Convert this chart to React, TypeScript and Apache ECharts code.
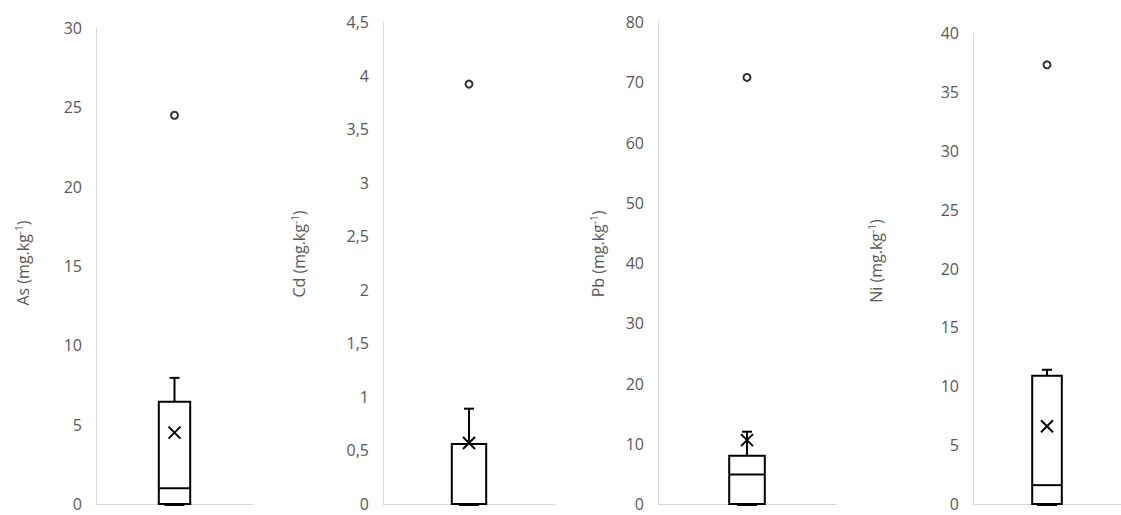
import React, { useEffect, useRef } from "react";
import * as echarts from "echarts";

// [min, Q1, median, Q3, max, mean]
const elements = ["As", "Cd", "Pb", "Ni"];
const boxStats = [
  [0, 0, 1.0, 6.45, 7.95, 4.5],
  [0, 0, 0, 0.56, 0.89, 0.57],
  [0, 0, 4.9, 8.0, 12.0, 10.6],
  [0, 0, 1.6, 10.9, 11.4, 6.6],
];
const outliers = [24.5, 3.92, 70.8, 37.3];
const axisMax = [30, 4.5, 80, 40];
const axisStep = [5, 0.5, 10, 5];

const grids = [
  { left: 96, top: 28, width: 157, height: 476 },
  { left: 383, top: 22, width: 172, height: 482 },
  { left: 658, top: 22, width: 178, height: 482 },
  { left: 973, top: 33, width: 154, height: 471 },
];
const titlePos = [
  { x: 23, y: 263 },
  { x: 299, y: 254 },
  { x: 598, y: 254 },
  { x: 876, y: 261 },
];

const FONT = "'Open Sans', sans-serif";
const GRAY = "#595959";
const AXIS = "#d9d9d9";

export default function App() {
  const ref = useRef<HTMLDivElement>(null);
  useEffect(() => {
    if (!ref.current) return;
    const chart = echarts.init(ref.current, null, { renderer: "svg" });
    const renderItem = (params: any, api: any) => {
      const x = api.value(0);
      const vals = [1, 2, 3, 4, 5, 6].map((i) => api.value(i));
      const [mn, q1, med, q3, mx, mean] = vals;
      const cx = api.coord([x, 0])[0];
      const y = (v: number) => api.coord([x, v])[1];
      const bw = api.size([1, 0])[0] * 0.2;
      const cap = 10;
      const ls = { stroke: "#000", lineWidth: 2 };
      const children: any[] = [
        { type: "line", shape: { x1: cx, y1: y(q3), x2: cx, y2: y(mx) }, style: ls },
        { type: "line", shape: { x1: cx - cap / 2, y1: y(mx), x2: cx + cap / 2, y2: y(mx) }, style: ls },
        { type: "line", shape: { x1: cx - cap, y1: y(mn) + 1, x2: cx + cap, y2: y(mn) + 1 }, style: ls },
        {
          type: "rect",
          shape: { x: cx - bw / 2, y: y(q3), width: bw, height: y(q1) - y(q3) },
          style: { fill: "#fff", stroke: "#000", lineWidth: 2 },
        },
        { type: "line", shape: { x1: cx - bw / 2, y1: y(med), x2: cx + bw / 2, y2: y(med) }, style: ls },
      ];
      const m = 6;
      const my = y(mean);
      children.push(
        { type: "line", shape: { x1: cx - m, y1: my - m, x2: cx + m, y2: my + m }, style: ls },
        { type: "line", shape: { x1: cx - m, y1: my + m, x2: cx + m, y2: my - m }, style: ls }
      );
      return { type: "group", children };
    };

    const option: any = {
      animation: false,
      grid: grids.map((g) => ({ ...g, containLabel: false })),
      xAxis: grids.map((_, i) => ({
        type: "category",
        gridIndex: i,
        data: [""],
        axisLine: { show: true, lineStyle: { color: AXIS, width: 1 } },
        axisTick: { show: false },
        axisLabel: { show: false },
        splitLine: { show: false },
      })),
      yAxis: grids.map((_, i) => ({
        type: "value",
        gridIndex: i,
        min: 0,
        max: axisMax[i],
        interval: axisStep[i],
        axisLine: { show: true, lineStyle: { color: AXIS, width: 1 } },
        axisTick: { show: false },
        splitLine: { show: false },
        axisLabel: {
          color: GRAY,
          fontFamily: FONT,
          fontSize: 16,
          margin: 14,
          formatter: (v: number) => String(Math.round(v * 10) / 10).replace(".", ","),
        },
      })),
      series: [
        ...boxStats.map((s, i) => ({
          type: "custom",
          xAxisIndex: i,
          yAxisIndex: i,
          renderItem,
          data: [[0, ...s]],
          z: 3,
        })),
        ...outliers.map((o, i) => ({
          type: "scatter",
          xAxisIndex: i,
          yAxisIndex: i,
          symbol: "circle",
          symbolSize: 7,
          itemStyle: { color: "#fff", borderColor: "#000", borderWidth: 2 },
          data: [[0, o]],
          z: 4,
        })),
      ],
      graphic: elements.map((e, i) => ({
        type: "text",
        x: titlePos[i].x,
        y: titlePos[i].y,
        rotation: Math.PI / 2,
        style: {
          text: `${e} (mg.kg{sup|-1})`,
          fill: GRAY,
          font: `16px ${FONT}`,
          textAlign: "center",
          verticalAlign: "middle",
          rich: {
            sup: { fontSize: 10, fill: GRAY, fontFamily: FONT, verticalAlign: "top", padding: [0, 0, 8, 0] },
          },
        },
      })),
    };
    chart.setOption(option);
    return () => chart.dispose();
  }, []);
  return (
    <div
      ref={ref}
      style={{ position: "fixed", left: 0, top: 0, width: 1121, height: 515, background: "#fff" }}
    />
  );
}
